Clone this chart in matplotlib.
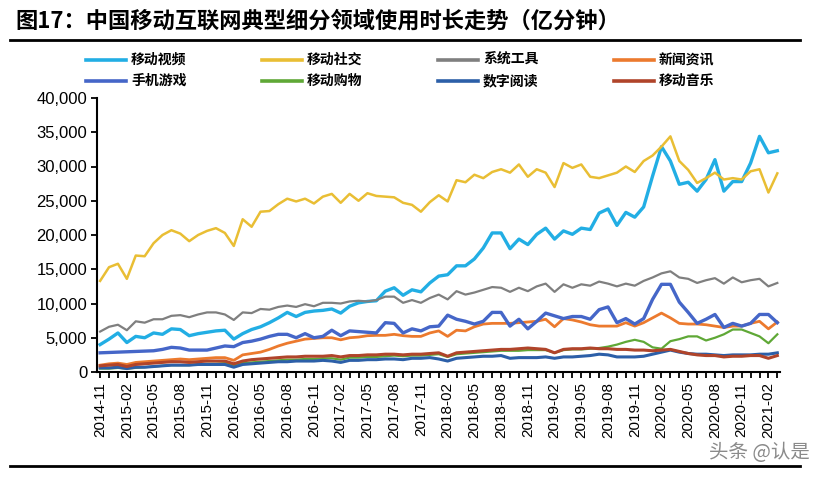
import numpy as np
import pandas as pd
import matplotlib
matplotlib.use("Agg")
import matplotlib.pyplot as plt
from matplotlib.ticker import FuncFormatter, MultipleLocator

plt.rcParams['font.family'] = ['Noto Sans CJK SC', 'DejaVu Sans']

months = pd.date_range("2014-11-01", periods=77, freq="MS").strftime("%Y-%m").tolist()

# 亿分钟, stored in thousands
video = [4.0, 4.8, 5.7, 4.3, 5.2, 5.0, 5.7, 5.5, 6.3, 6.2, 5.3, 5.6, 5.8, 6.0, 6.1, 4.8,
         5.6, 6.2, 6.6, 7.2, 7.9, 8.7, 8.1, 8.7, 8.9, 9.0, 9.2, 8.6, 9.6, 10.1, 10.3, 10.4,
         11.8, 12.3, 11.2, 12.0, 11.7, 13.0, 14.0, 14.2, 15.5, 15.5, 16.5, 18.1, 20.3, 20.3,
         18.0, 19.4, 18.6, 20.1, 21.0, 19.4, 20.6, 20.1, 21.0, 20.8, 23.2, 23.8, 21.4, 23.3,
         22.6, 24.1, 28.6, 32.9, 30.8, 27.4, 27.7, 26.4, 28.1, 31.0, 26.4, 27.8, 27.8, 30.5,
         34.4, 32.0, 32.3]
social = [13.3, 15.3, 15.8, 13.6, 17.0, 16.9, 18.8, 20.0, 20.7, 20.2, 19.1, 20.0, 20.6, 21.0,
          20.3, 18.4, 22.3, 21.2, 23.4, 23.5, 24.5, 25.3, 24.9, 25.3, 24.6, 25.6, 26.0, 24.7,
          26.0, 25.0, 26.1, 25.7, 25.6, 25.5, 24.7, 24.4, 23.4, 24.8, 25.8, 24.9, 28.0, 27.7,
          28.8, 28.3, 29.2, 29.6, 29.1, 30.3, 28.5, 29.6, 29.1, 27.0, 30.5, 29.8, 30.3, 28.5,
          28.3, 28.7, 29.1, 30.0, 29.2, 30.8, 31.6, 32.9, 34.4, 30.8, 29.5, 27.6, 28.3, 29.1,
          28.1, 28.3, 28.1, 29.3, 29.6, 26.2, 29.0]
tools = [5.9, 6.6, 6.9, 6.1, 7.4, 7.2, 7.7, 7.7, 8.2, 8.3, 8.0, 8.4, 8.7, 8.7, 8.4, 7.6, 8.7,
         8.6, 9.2, 9.1, 9.5, 9.7, 9.5, 9.9, 9.6, 10.1, 10.1, 10.0, 10.3, 10.4, 10.3, 10.5, 11.0,
         11.0, 10.1, 10.5, 10.1, 10.8, 11.3, 10.6, 11.8, 11.3, 11.6, 12.0, 12.4, 12.3, 11.7,
         12.3, 11.8, 12.5, 12.9, 11.7, 12.8, 12.3, 12.8, 12.6, 13.2, 12.9, 12.5, 12.9, 12.6,
         13.3, 13.8, 14.4, 14.7, 13.8, 13.6, 13.0, 13.4, 13.7, 12.9, 13.8, 13.1, 13.4, 13.6,
         12.5, 13.0]
news = [1.0, 1.2, 1.3, 1.1, 1.4, 1.5, 1.6, 1.7, 1.8, 1.9, 1.8, 1.9, 2.0, 2.1, 2.1, 1.7, 2.5,
        2.7, 2.9, 3.3, 3.8, 4.2, 4.5, 4.8, 4.9, 5.0, 5.0, 4.7, 5.0, 5.1, 5.3, 5.35, 5.35, 5.5,
        5.3, 5.2, 5.2, 5.7, 6.0, 5.2, 6.1, 6.0, 6.6, 7.0, 7.1, 7.1, 7.1, 7.2, 7.3, 7.4, 7.7,
        6.6, 7.8, 7.6, 7.3, 6.9, 6.7, 6.7, 6.7, 7.2, 6.7, 7.2, 7.9, 8.6, 7.9, 7.1, 7.0, 7.0,
        6.9, 6.7, 6.5, 6.7, 6.7, 7.1, 7.4, 6.3, 7.3]
games = [2.8, 2.85, 2.9, 2.95, 3.0, 3.05, 3.1, 3.3, 3.6, 3.5, 3.2, 3.2, 3.2, 3.5, 3.8, 3.7,
         4.3, 4.5, 4.8, 5.2, 5.5, 5.5, 5.0, 5.6, 5.0, 5.2, 6.1, 5.3, 6.0, 5.9, 5.8, 5.7, 7.2,
         7.1, 5.7, 6.3, 6.0, 6.6, 6.7, 8.3, 7.7, 7.4, 7.0, 7.4, 8.7, 8.7, 6.7, 7.7, 6.3, 7.4,
         8.6, 8.2, 7.8, 8.1, 8.1, 7.7, 9.1, 9.5, 7.2, 7.8, 7.0, 7.8, 10.6, 12.8, 12.8, 10.2,
         8.7, 7.1, 7.7, 8.4, 6.5, 7.1, 6.7, 7.1, 8.4, 8.4, 7.2]
shopping = [0.5, 0.5, 0.6, 0.5, 0.6, 0.7, 0.8, 0.9, 1.0, 1.0, 1.0, 1.1, 1.2, 1.2, 1.3, 1.0,
            1.3, 1.4, 1.5, 1.6, 1.7, 1.8, 1.8, 1.9, 1.9, 2.0, 2.0, 1.8, 2.1, 2.1, 2.2, 2.2,
            2.3, 2.4, 2.3, 2.4, 2.4, 2.5, 2.6, 2.2, 2.6, 2.7, 2.8, 2.9, 3.0, 3.1, 3.1, 3.1,
            3.2, 3.2, 3.2, 2.8, 3.2, 3.3, 3.3, 3.4, 3.5, 3.7, 4.0, 4.4, 4.7, 4.4, 3.6, 3.4,
            4.5, 4.8, 5.2, 5.2, 4.6, 5.0, 5.5, 6.2, 6.2, 5.7, 5.2, 4.2, 5.5]
reading = [0.6, 0.6, 0.7, 0.5, 0.7, 0.7, 0.8, 0.9, 1.0, 1.0, 1.0, 1.1, 1.1, 1.1, 1.1, 0.7,
           1.1, 1.2, 1.3, 1.4, 1.5, 1.5, 1.6, 1.6, 1.6, 1.7, 1.6, 1.4, 1.7, 1.7, 1.8, 1.8,
           1.9, 1.9, 1.8, 2.0, 2.0, 2.1, 1.9, 1.6, 2.0, 2.1, 2.2, 2.3, 2.3, 2.4, 2.0, 2.1,
           2.1, 2.1, 2.2, 2.0, 2.2, 2.2, 2.3, 2.4, 2.6, 2.5, 2.2, 2.2, 2.2, 2.3, 2.6, 2.9,
           3.2, 2.9, 2.7, 2.6, 2.6, 2.5, 2.4, 2.5, 2.5, 2.5, 2.6, 2.6, 2.8]
music = [0.9, 1.0, 1.1, 0.8, 1.1, 1.2, 1.3, 1.4, 1.5, 1.5, 1.4, 1.5, 1.6, 1.6, 1.6, 1.2, 1.6,
         1.8, 1.9, 2.0, 2.1, 2.2, 2.2, 2.3, 2.3, 2.3, 2.4, 2.2, 2.4, 2.4, 2.5, 2.5, 2.6, 2.6,
         2.5, 2.6, 2.6, 2.7, 2.8, 2.3, 2.8, 2.9, 3.0, 3.1, 3.2, 3.3, 3.3, 3.4, 3.5, 3.4, 3.3,
         2.8, 3.3, 3.4, 3.4, 3.5, 3.4, 3.4, 3.3, 3.3, 3.2, 3.2, 3.1, 3.2, 3.3, 3.0, 2.7, 2.5,
         2.4, 2.4, 2.2, 2.3, 2.3, 2.4, 2.4, 2.0, 2.4]

names = ["移动视频", "移动社交", "系统工具", "新闻资讯", "手机游戏", "移动购物", "数字阅读", "移动音乐"]
series = [video, social, tools, news, games, shopping, reading, music]
colors = ["#22AEE4", "#E9BE34", "#7F7F7F", "#EC7A2E", "#4566C8", "#5FA836", "#2C5FA8", "#B0442A"]
widths = [2.4, 1.8, 1.6, 2.0, 2.4, 1.6, 2.2, 2.2]

fig = plt.figure(figsize=(8.24, 4.78), dpi=100)
ax = fig.add_axes([97 / 824, 1 - 372 / 478, (780 - 97) / 824, (372 - 98) / 478])

x = np.arange(len(months))
lines = []
for name, vals, c, lw in zip(names, series, colors, widths):
    ln, = ax.plot(x, np.array(vals) * 1000, color=c, lw=lw, label=name, solid_joinstyle="round")
    lines.append(ln)

ax.set_xlim(-0.35, 76.3)
ax.set_ylim(0, 40000)
ax.yaxis.set_major_locator(MultipleLocator(5000))
ax.yaxis.set_major_formatter(FuncFormatter(lambda v, p: f"{int(v):,}"))
ax.set_xticks(x, minor=True)
ax.set_xticks(x[::3])
ax.set_xticklabels(months[::3], rotation=90, family="Liberation Sans", fontsize=11)
for lab in ax.get_yticklabels():
    lab.set_family("Liberation Sans")
    lab.set_fontsize(12)
ax.tick_params(axis="y", direction="out", length=4, width=1.3, pad=3)
ax.tick_params(axis="x", which="both", direction="out", length=4, width=1.3, pad=3)
for s in ["top", "right"]:
    ax.spines[s].set_visible(False)
for s in ["left", "bottom"]:
    ax.spines[s].set_linewidth(1.5)

# title and rules
fig.text(15 / 824, 1 - 21 / 478, "图17：中国移动互联网典型细分领域使用时长走势（亿分钟）",
         fontsize=16, fontweight="bold", va="center", ha="left")
fig.add_artist(plt.Line2D([10 / 824, 800 / 824], [1 - 40 / 478] * 2, color="black", lw=2))
fig.add_artist(plt.Line2D([10 / 824, 800 / 824], [1 - 466 / 478] * 2, color="black", lw=2))

# legend, 2 rows x 4 columns
col_x = [86, 262, 438, 614]
row_y = [60, 81]
for k, (name, c) in enumerate(zip(names, colors)):
    cx = col_x[k % 4]
    ry = row_y[k // 4]
    fig.add_artist(plt.Line2D([cx / 824, (cx + 40) / 824], [1 - ry / 478] * 2, color=c, lw=2.6))
    fig.text((cx + 45) / 824, 1 - ry / 478, name, fontsize=10, fontweight="bold",
             va="center", ha="left")

fig.text(810 / 824, 1 - 453 / 478, "头条 @认是", fontsize=14, color="#8a8a8a",
         ha="right", va="center")

fig.savefig("out.png", dpi=100, facecolor="white")
